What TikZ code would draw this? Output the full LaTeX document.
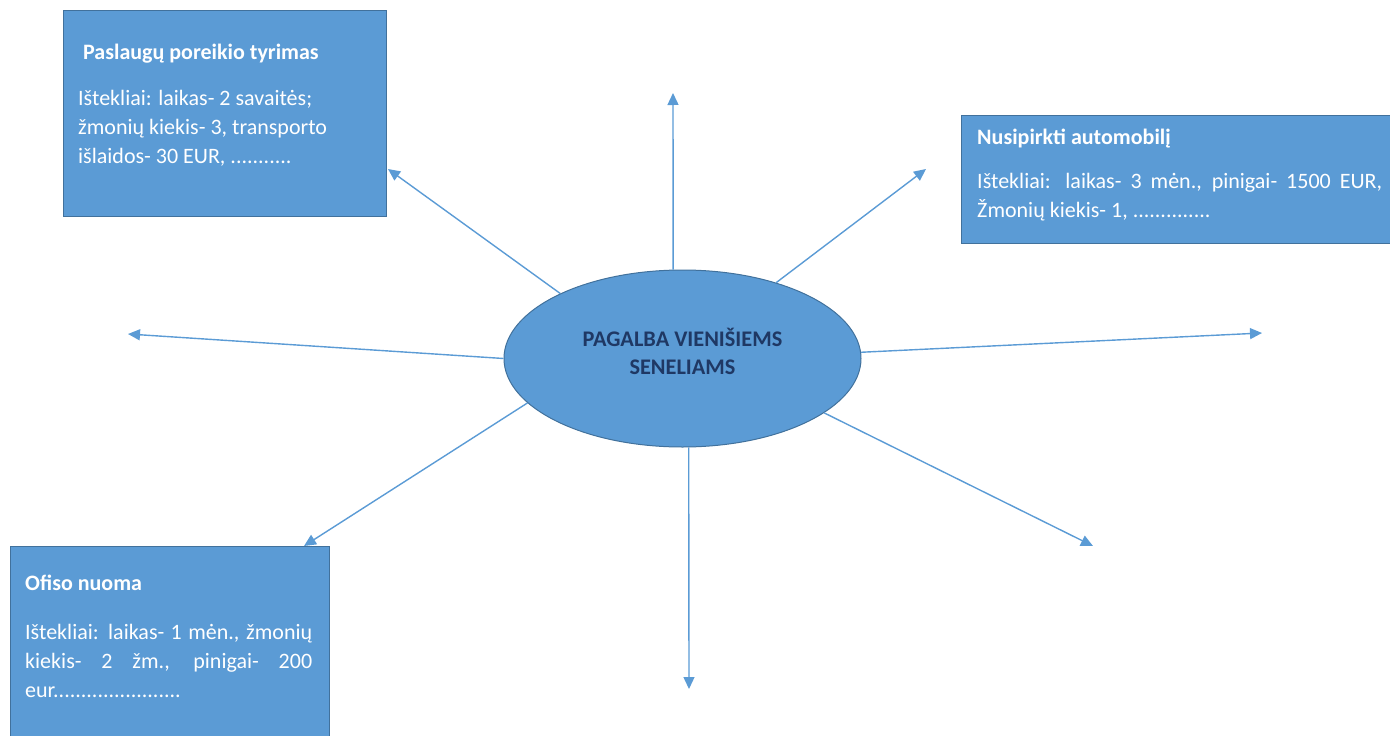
\documentclass[tikz,border=0pt]{standalone}
\usepackage{fontspec}
\setmainfont{Carlito}
\usetikzlibrary{positioning,shapes.geometric,arrows.meta}
\definecolor{boxblue}{HTML}{5B9BD5}
\definecolor{boxedge}{HTML}{41719C}
\definecolor{navy}{HTML}{1F3864}

\begin{document}
\begin{tikzpicture}[x=1pt,y=-1pt,
    hub/.style={ellipse, fill=boxblue, draw=boxedge, line width=1pt,
        minimum width=357pt, minimum height=177pt, inner sep=0pt},
    hubtext/.style={align=center, text=navy, inner sep=0pt,
        font=\fontsize{22.3}{28}\selectfont\bfseries},
    sbox/.style={rectangle, fill=boxblue, draw=boxedge, line width=1pt,
        anchor=north west, inner sep=0pt},
    stitle/.style={anchor=base west, inner sep=0pt, text=white,
        font=\fontsize{22}{29}\selectfont\bfseries},
    sbody/.style={anchor=base west, inner sep=0pt, text=white,
        font=\fontsize{22}{29}\selectfont},
    arr/.style={-{Triangle[length=12pt,width=11pt]}, draw=boxblue, line width=1.4pt}]

    \useasboundingbox (0,0) rectangle (1390,736);

    %Nodes
    \node[hub] at (682.5,358.5) (hub) {};
    \node[hubtext] at (682.5,351) (hubtxt) {PAGALBA VIENIŠIEMS\\SENELIAMS};

    \node[sbox, minimum width=323pt, minimum height=206pt] at (63,10) (tyrimas) {};
    \node[stitle] at (83,59) (tyrimastitle) {Paslaugų poreikio tyrimas};
    \node[sbody, text width=295pt, align=flush left] at (78,105) (tyrimasbody)
        {Ištekliai: laikas- 2 savaitės;\\žmonių kiekis- 3, transporto\\išlaidos- 30 EUR, ...........};

    \node[sbox, minimum width=435pt, minimum height=128pt] at (961,115) (auto) {};
    \node[stitle] at (977,144) (autotitle) {Nusipirkti automobilį};
    \node[sbody, text width=405pt, align=justify] at (977,188) (autobody)
        {Ištekliai: laikas- 3 mėn., pinigai- 1500 EUR,\linebreak Žmonių kiekis- 1, ..............};

    \node[sbox, minimum width=319pt, minimum height=200pt] at (10,546) (ofisas) {};
    \node[stitle] at (25,590) (ofisastitle) {Ofiso nuoma};
    \node[sbody, text width=287pt, align=justify] at (25,639) (ofisasbody)
        {Ištekliai: laikas- 1 mėn., žmonių\linebreak kiekis- 2 žm., pinigai- 200\linebreak eur.......................};

    %Arrow ends
    \coordinate (up) at (673,93);
    \coordinate (upright) at (926,169);
    \coordinate (right) at (1262,333);
    \coordinate (downright) at (1093,546);
    \coordinate (down) at (689,689);
    \coordinate (downleft) at (304,546);
    \coordinate (left) at (128,334);
    \coordinate (upleft) at (388,169);

    %Lines
    \draw[arr] (hub.96.5) -- (up);
    \draw[arr] (hub.39) -- (upright);
    \draw[arr] (hub.2.6) -- (right);
    \draw[arr] (hub.-21.8) -- (downright);
    \draw[arr] (hub.-86.1) -- (down);
    \draw[arr] (hub.196.3) -- (downleft);
    \draw[arr] (hub.180) -- (left);
    \draw[arr] (hub.152.9) -- (upleft);
\end{tikzpicture}
\end{document}
